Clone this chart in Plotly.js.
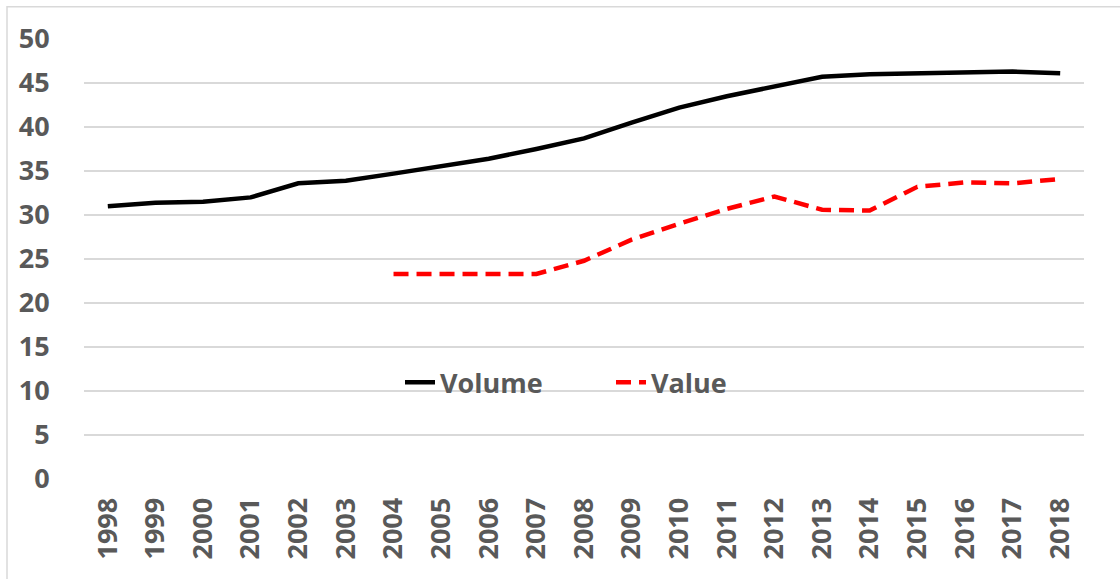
<!DOCTYPE html>
<html>
<head>
<meta charset="utf-8">
<script src="https://cdn.plot.ly/plotly-3.0.1.min.js"></script>
<style>html,body{margin:0;padding:0;background:#fff;}#chart{width:1120px;height:579px;}</style>
</head>
<body>
<div id="chart"></div>
<script>
const years = ['1998','1999','2000','2001','2002','2003','2004','2005','2006','2007','2008','2009','2010','2011','2012','2013','2014','2015','2016','2017','2018'];
const volume = [31.0,31.4,31.5,32.0,33.6,33.9,34.7,35.6,36.4,37.5,38.7,40.5,42.2,43.5,44.6,45.7,46.0,46.1,46.2,46.3,46.1];
const value = [null,null,null,null,null,null,23.3,23.3,23.3,23.3,24.8,27.2,29.0,30.7,32.1,30.6,30.5,33.2,33.7,33.6,34.1];
const yTicks = [0,5,10,15,20,25,30,35,40,45,50];

const font = {family:'"Open Sans", sans-serif', size:27, color:'#595959', weight:'bold'};

const traces = [
  {x: years, y: volume, name: 'Volume', type: 'scatter', mode: 'lines',
   line: {color: '#000000', width: 4.5}},
  {x: years, y: value, name: 'Value', type: 'scatter', mode: 'lines',
   line: {color: '#ff0000', width: 4.5, dash: '15px,8px'}, connectgaps: false}
];

const layout = {
  width: 1120, height: 579,
  margin: {l: 84, r: 36, t: 39, b: 100},
  paper_bgcolor: '#ffffff', plot_bgcolor: '#ffffff',
  font: font,
  showlegend: true,
  legend: {orientation: 'h', x: 0.316, xanchor: 'left', y: 0.219, yanchor: 'middle',
           font: font, bgcolor: 'rgba(0,0,0,0)', entrywidth: 166, entrywidthmode: 'pixels'},
  xaxis: {type: 'category', range: [-0.5, 20.5], tickangle: -90, showgrid: false, showline: false, zeroline: false,
          ticks: 'outside', ticklen: 7, tickcolor: 'rgba(0,0,0,0)', tickfont: font,
          fixedrange: true},
  yaxis: {range: [0, 50], tickvals: yTicks, showgrid: true, gridcolor: '#d9d9d9', gridwidth: 1.5,
          zeroline: false, showline: false, ticks: 'outside', ticklen: 28, tickcolor: 'rgba(0,0,0,0)',
          tickfont: font, fixedrange: true},
  shapes: [
    {type: 'rect', xref: 'paper', yref: 'paper', x0: -0.077, x1: 1.05, y0: -0.3, y1: 1.0734,
     line: {color: '#d9d9d9', width: 1.5}, fillcolor: 'rgba(0,0,0,0)', layer: 'below'}
  ]
};

Plotly.newPlot('chart', traces, layout, {displayModeBar: false, staticPlot: true});
</script>
</body>
</html>
